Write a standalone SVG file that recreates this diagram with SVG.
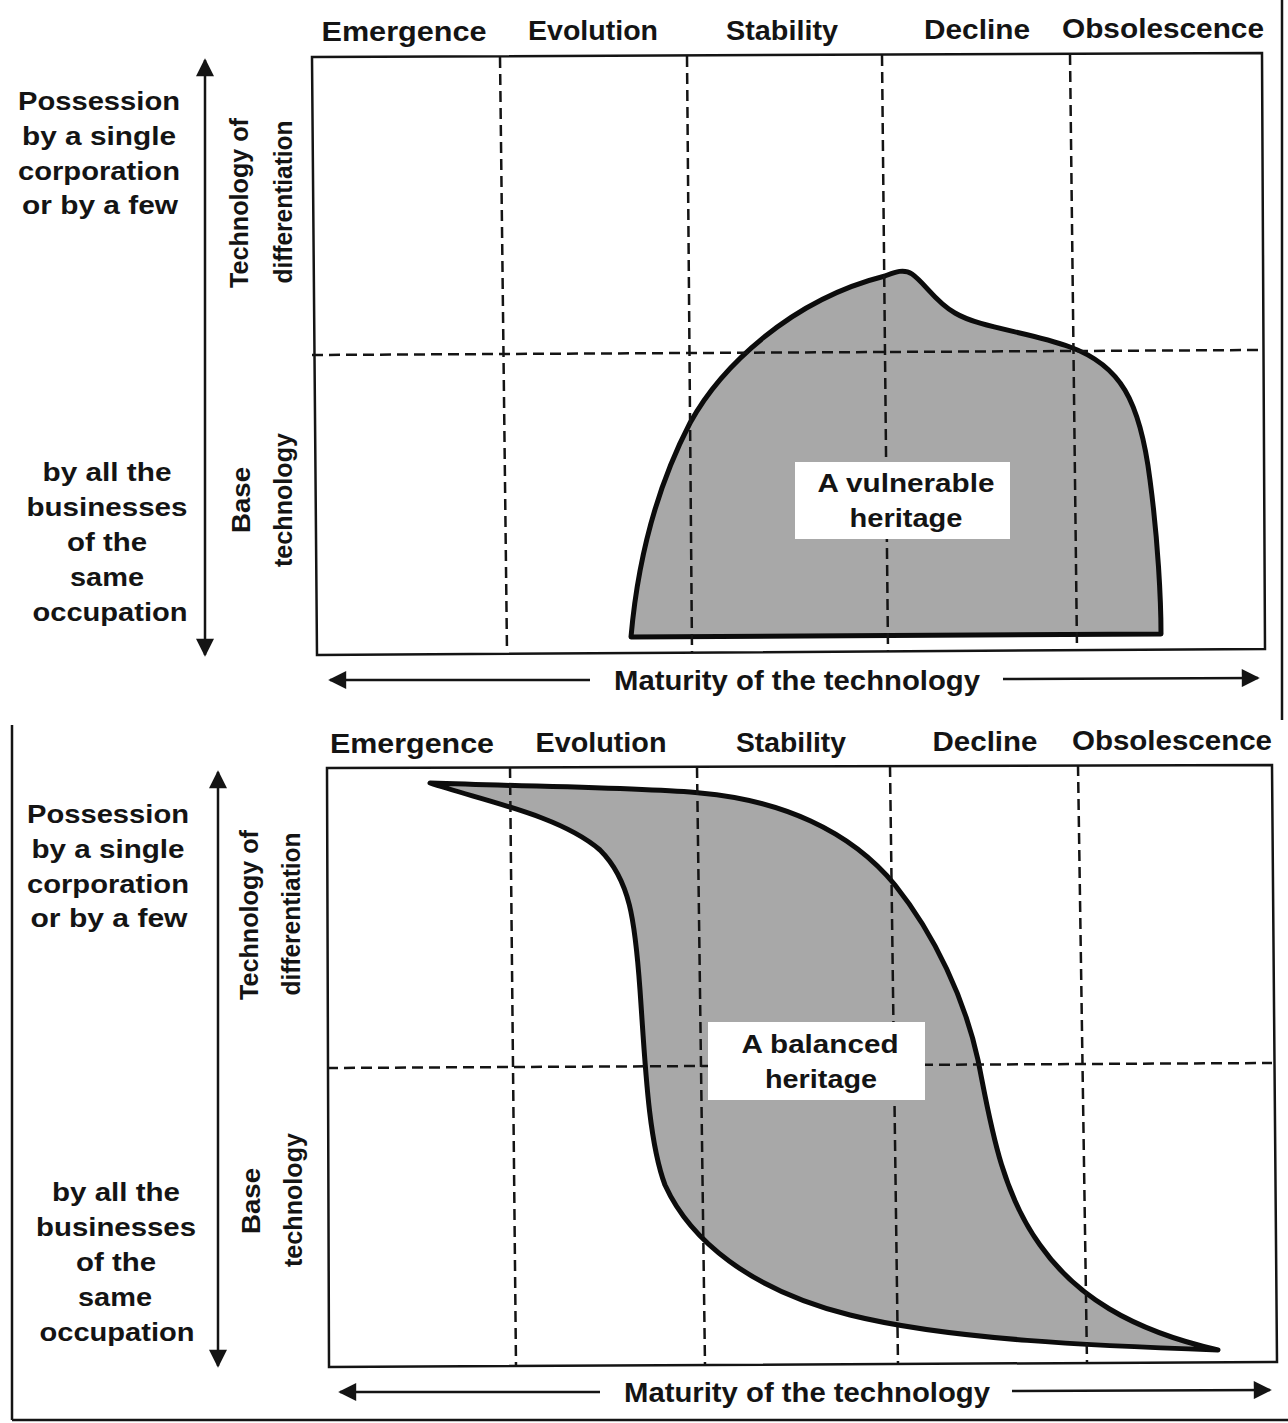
<svg xmlns="http://www.w3.org/2000/svg" width="1288" height="1423" viewBox="0 0 1288 1423">
<style>
  text { font-family: "Liberation Sans", Arial, Helvetica, sans-serif; fill: #141414; }
  .hdr { font-size: 27px; font-weight: bold; text-anchor: middle; }
  .side { font-size: 26px; font-weight: bold; text-anchor: middle; }
  .rot { font-size: 26px; font-weight: bold; text-anchor: middle; }
  .axis { font-size: 27px; font-weight: bold; text-anchor: middle; }
  .lbl { font-size: 26px; font-weight: bold; text-anchor: middle; }
  .frame { fill: none; stroke: #141414; stroke-width: 2.5; }
  .dash { fill: none; stroke: #141414; stroke-width: 2.5; stroke-dasharray: 11 6; }
  .area { fill: #a8a8a8; stroke: #0c0c0c; stroke-width: 5; stroke-linejoin: round; }
  .axl { fill: none; stroke: #141414; stroke-width: 2.5; }
  .box { fill: #ffffff; }
</style>
<defs>
  <marker id="ah" viewBox="0 0 10 10" refX="9" refY="5" markerWidth="20" markerHeight="18" markerUnits="userSpaceOnUse" orient="auto-start-reverse">
    <path d="M0,0 L10,5 L0,10 z" fill="#141414"/>
  </marker>
</defs>
<rect width="1288" height="1423" fill="#ffffff"/>

<!-- outer frame fragments -->
<g id="outer-frame" class="frame">
  <line x1="1282" y1="0" x2="1282" y2="720"/>
  <line x1="12" y1="725" x2="12" y2="1420"/>
  <line x1="12" y1="1420" x2="1288" y2="1420"/>
</g>

<!-- ===== TOP PANEL ===== -->
<g id="top-panel">
  <g id="top-headers">
    <text class="hdr" x="404" y="41" textLength="165" lengthAdjust="spacingAndGlyphs">Emergence</text>
    <text class="hdr" x="593" y="40" textLength="130" lengthAdjust="spacingAndGlyphs">Evolution</text>
    <text class="hdr" x="782" y="40" textLength="112" lengthAdjust="spacingAndGlyphs">Stability</text>
    <text class="hdr" x="977" y="39" textLength="106" lengthAdjust="spacingAndGlyphs">Decline</text>
    <text class="hdr" x="1163" y="38" textLength="202" lengthAdjust="spacingAndGlyphs">Obsolescence</text>
  </g>
  <g id="top-area">
    <path class="area" d="M631,637 C636,580 650,500 690,423 C720,368 790,300 885,276 C893,273 903,268 912,274 C925,283 935,302 955,313 C980,328 1030,332 1070,347 C1120,365 1140,400 1150,480 C1158,540 1161,600 1161,634 Z"/>
  </g>
  <g id="top-grid">
    <line class="dash" x1="500" y1="57" x2="507" y2="652"/>
    <line class="dash" x1="687" y1="56" x2="692" y2="652"/>
    <line class="dash" x1="882" y1="55" x2="888" y2="651"/>
    <line class="dash" x1="1070" y1="54" x2="1077" y2="650"/>
    <line class="dash" x1="312" y1="355" x2="1262" y2="350"/>
  </g>
  <polygon id="top-plot-frame" class="frame" points="312,57 1262,53 1265,649 317,655"/>
  <g id="top-label">
    <rect class="box" x="795" y="462" width="215" height="77"/>
    <text class="lbl" x="906" y="492" textLength="177" lengthAdjust="spacingAndGlyphs">A vulnerable</text>
    <text class="lbl" x="906" y="527" textLength="113" lengthAdjust="spacingAndGlyphs">heritage</text>
  </g>
  <g id="top-left-text">
    <text class="side" x="99" y="110" textLength="162" lengthAdjust="spacingAndGlyphs">Possession</text>
    <text class="side" x="99" y="145" textLength="154" lengthAdjust="spacingAndGlyphs">by a single</text>
    <text class="side" x="99" y="180" textLength="162" lengthAdjust="spacingAndGlyphs">corporation</text>
    <text class="side" x="100" y="214" textLength="156" lengthAdjust="spacingAndGlyphs">or by a few</text>
    <text class="side" x="107" y="481" textLength="129" lengthAdjust="spacingAndGlyphs">by all the</text>
    <text class="side" x="107" y="516" textLength="161" lengthAdjust="spacingAndGlyphs">businesses</text>
    <text class="side" x="107" y="551" textLength="80" lengthAdjust="spacingAndGlyphs">of the</text>
    <text class="side" x="107" y="586" textLength="74" lengthAdjust="spacingAndGlyphs">same</text>
    <text class="side" x="110" y="621" textLength="155" lengthAdjust="spacingAndGlyphs">occupation</text>
  </g>
  <g id="top-rot-text">
    <text class="rot" transform="translate(248,203) rotate(-90)" textLength="170" lengthAdjust="spacingAndGlyphs">Technology of</text>
    <text class="rot" transform="translate(292,202) rotate(-90)" textLength="163" lengthAdjust="spacingAndGlyphs">differentiation</text>
    <text class="rot" transform="translate(250,500) rotate(-90)" textLength="66" lengthAdjust="spacingAndGlyphs">Base</text>
    <text class="rot" transform="translate(292,500) rotate(-90)" textLength="134" lengthAdjust="spacingAndGlyphs">technology</text>
  </g>
  <g id="top-axes">
    <line class="axl" x1="205" y1="655" x2="205" y2="60" marker-start="url(#ah)" marker-end="url(#ah)"/>
    <line class="axl" x1="590" y1="680" x2="330" y2="680" marker-end="url(#ah)"/>
    <line class="axl" x1="1003" y1="679" x2="1258" y2="678" marker-end="url(#ah)"/>
    <text class="axis" x="797" y="690" textLength="366" lengthAdjust="spacingAndGlyphs">Maturity of the technology</text>
  </g>
</g>

<!-- ===== BOTTOM PANEL ===== -->
<g id="bottom-panel">
  <g id="bottom-headers">
    <text class="hdr" x="412" y="753" textLength="164" lengthAdjust="spacingAndGlyphs">Emergence</text>
    <text class="hdr" x="601" y="752" textLength="131" lengthAdjust="spacingAndGlyphs">Evolution</text>
    <text class="hdr" x="791" y="752" textLength="110" lengthAdjust="spacingAndGlyphs">Stability</text>
    <text class="hdr" x="985" y="751" textLength="105" lengthAdjust="spacingAndGlyphs">Decline</text>
    <text class="hdr" x="1172" y="750" textLength="200" lengthAdjust="spacingAndGlyphs">Obsolescence</text>
  </g>
  <g id="bottom-area">
    <path class="area" d="M430,783 C550,787 650,788 700,793 C780,800 850,830 895,885 C935,935 965,1000 978,1060 C990,1120 1000,1190 1040,1245 C1075,1295 1130,1330 1218,1350 C1100,1346 950,1340 850,1315 C750,1290 690,1240 665,1185 C648,1140 645,1060 640,990 C635,920 630,880 600,850 C560,815 480,800 430,783 Z"/>
  </g>
  <g id="bottom-grid">
    <line class="dash" x1="510" y1="767" x2="516" y2="1366"/>
    <line class="dash" x1="697" y1="767" x2="705" y2="1365"/>
    <line class="dash" x1="890" y1="766" x2="898" y2="1364"/>
    <line class="dash" x1="1078" y1="765" x2="1087" y2="1363"/>
    <line class="dash" x1="327" y1="1068" x2="1272" y2="1063"/>
  </g>
  <polygon id="bottom-plot-frame" class="frame" points="327,768 1272,765 1277,1362 329,1367"/>
  <g id="bottom-label">
    <rect class="box" x="708" y="1022" width="217" height="78"/>
    <text class="lbl" x="820" y="1053" textLength="157" lengthAdjust="spacingAndGlyphs">A balanced</text>
    <text class="lbl" x="821" y="1088" textLength="112" lengthAdjust="spacingAndGlyphs">heritage</text>
  </g>
  <g id="bottom-left-text">
    <text class="side" x="108" y="823" textLength="162" lengthAdjust="spacingAndGlyphs">Possession</text>
    <text class="side" x="108" y="858" textLength="153" lengthAdjust="spacingAndGlyphs">by a single</text>
    <text class="side" x="108" y="893" textLength="162" lengthAdjust="spacingAndGlyphs">corporation</text>
    <text class="side" x="109" y="927" textLength="157" lengthAdjust="spacingAndGlyphs">or by a few</text>
    <text class="side" x="116" y="1201" textLength="128" lengthAdjust="spacingAndGlyphs">by all the</text>
    <text class="side" x="116" y="1236" textLength="160" lengthAdjust="spacingAndGlyphs">businesses</text>
    <text class="side" x="116" y="1271" textLength="80" lengthAdjust="spacingAndGlyphs">of the</text>
    <text class="side" x="115" y="1306" textLength="74" lengthAdjust="spacingAndGlyphs">same</text>
    <text class="side" x="117" y="1341" textLength="155" lengthAdjust="spacingAndGlyphs">occupation</text>
  </g>
  <g id="bottom-rot-text">
    <text class="rot" transform="translate(258,915) rotate(-90)" textLength="170" lengthAdjust="spacingAndGlyphs">Technology of</text>
    <text class="rot" transform="translate(300,914) rotate(-90)" textLength="163" lengthAdjust="spacingAndGlyphs">differentiation</text>
    <text class="rot" transform="translate(260,1201) rotate(-90)" textLength="66" lengthAdjust="spacingAndGlyphs">Base</text>
    <text class="rot" transform="translate(302,1200) rotate(-90)" textLength="134" lengthAdjust="spacingAndGlyphs">technology</text>
  </g>
  <g id="bottom-axes">
    <line class="axl" x1="218" y1="1366" x2="218" y2="772" marker-start="url(#ah)" marker-end="url(#ah)"/>
    <line class="axl" x1="600" y1="1392" x2="340" y2="1392" marker-end="url(#ah)"/>
    <line class="axl" x1="1012" y1="1391" x2="1270" y2="1390" marker-end="url(#ah)"/>
    <text class="axis" x="807" y="1402" textLength="366" lengthAdjust="spacingAndGlyphs">Maturity of the technology</text>
  </g>
</g>
</svg>
